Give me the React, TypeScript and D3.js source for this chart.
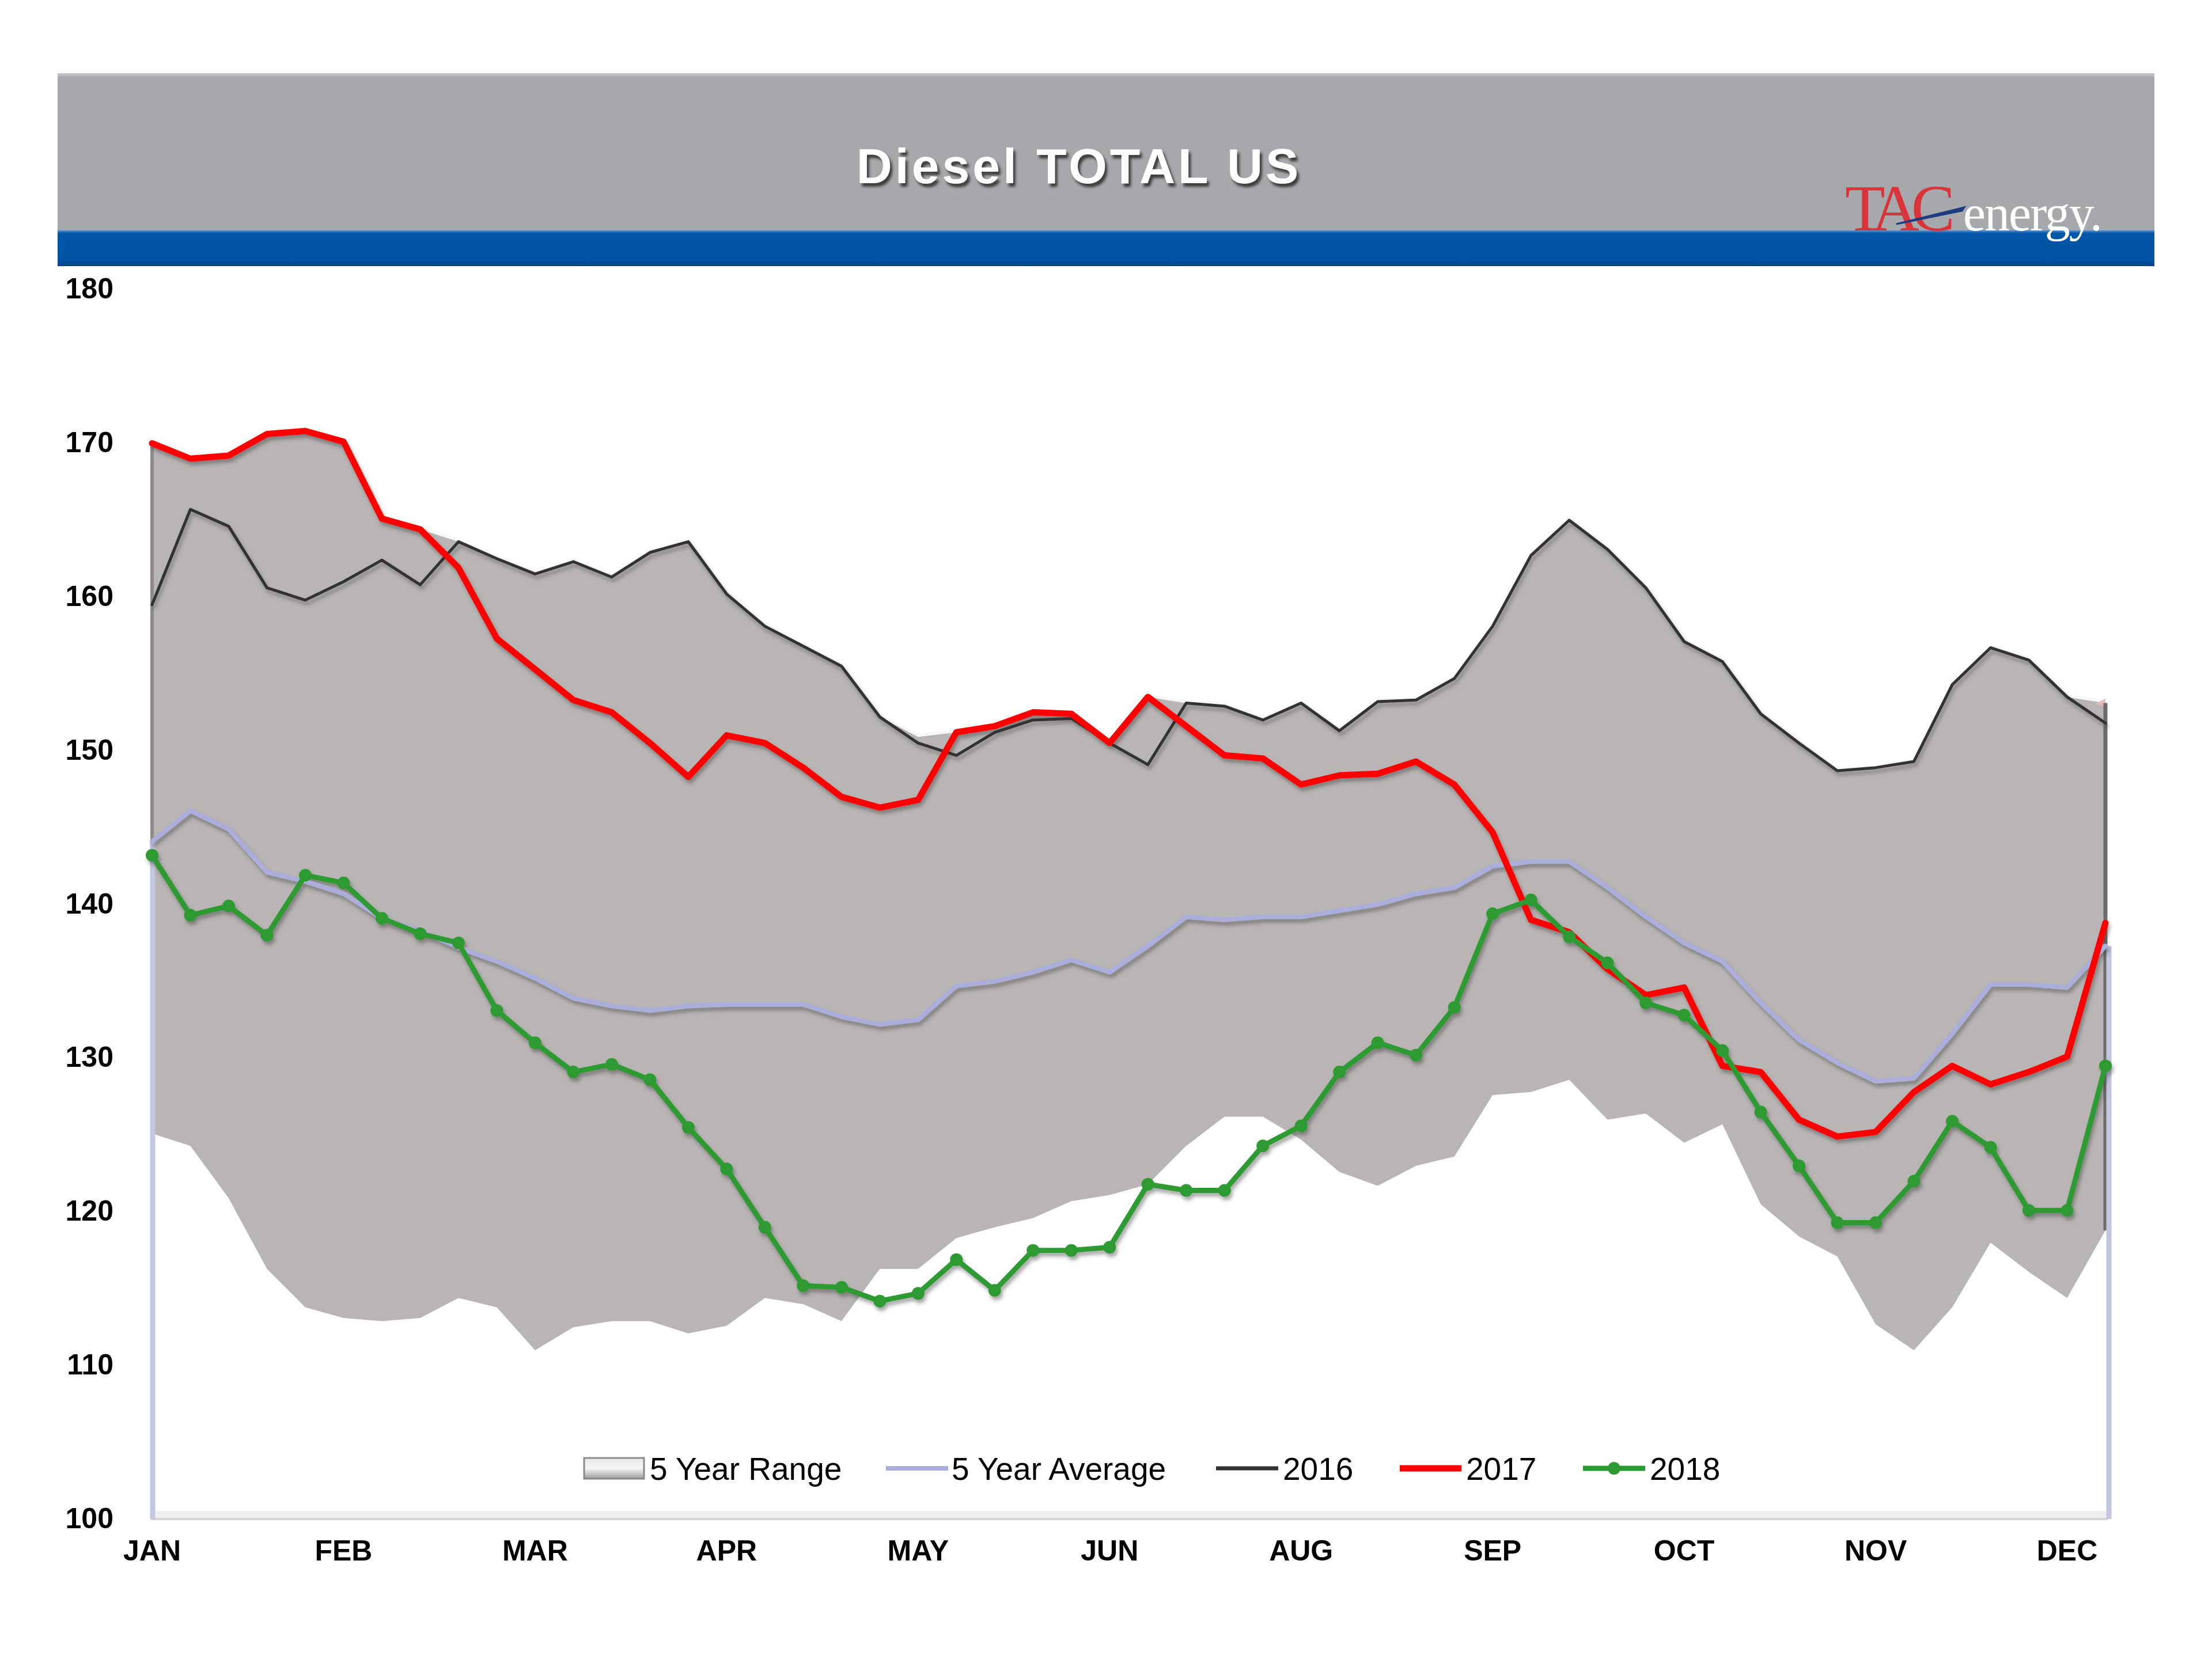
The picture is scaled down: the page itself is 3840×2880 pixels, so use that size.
import React from "react";
import * as d3 from "d3";

// ---------- DATA ----------
const weeks = d3.range(52);
const monthLabels = ["JAN", "FEB", "MAR", "APR", "MAY", "JUN", "AUG", "SEP", "OCT", "NOV", "DEC"];
const monthTickWeeks = [0, 5, 10, 15, 20, 25, 30, 35, 40, 45, 50];
const yTicks = [100, 110, 120, 130, 140, 150, 160, 170, 180];

const rangeHigh = [
  169.9, 168.9, 169.1, 170.5, 170.7, 170.0, 165.0, 164.3, 163.5, 162.4,
  161.4, 162.2, 161.2, 162.8, 163.5, 160.1, 158.0, 156.7, 155.4, 152.1,
  150.8, 151.1, 151.5, 152.4, 152.3, 150.4, 153.4, 153.0, 152.8, 151.9,
  153.0, 151.2, 153.1, 153.2, 154.6, 158.0, 162.6, 164.9, 163.0, 160.5,
  157.0, 155.7, 152.3, 150.4, 148.6, 148.8, 149.2, 154.2, 156.6, 155.8,
  153.4, 153.0,
];
const rangeLow = [
  125.0, 124.2, 120.8, 116.2, 113.7, 113.0, 112.8, 113.0, 114.3, 113.7,
  110.9, 112.4, 112.8, 112.8, 112.0, 112.5, 114.3, 113.9, 112.8, 116.2,
  116.2, 118.2, 118.9, 119.5, 120.6, 121.0, 121.7, 124.2, 126.1, 126.1,
  124.6, 122.5, 121.6, 122.9, 123.5, 127.5, 127.7, 128.5, 125.9, 126.3,
  124.4, 125.6, 120.4, 118.3, 117.0, 112.6, 110.9, 113.7, 117.9, 116.0,
  114.3, 118.7,
];
const avg5 = [
  144.0, 146.0, 144.8, 142.0, 141.4, 140.6, 139.0, 138.2, 137.1, 136.2,
  135.1, 133.8, 133.3, 133.0, 133.3, 133.4, 133.4, 133.4, 132.6, 132.1,
  132.4, 134.6, 134.9, 135.5, 136.3, 135.5, 137.2, 139.1, 138.9, 139.1,
  139.1, 139.5, 139.9, 140.6, 141.0, 142.4, 142.7, 142.7, 141.0, 139.1,
  137.4, 136.2, 133.5, 131.1, 129.6, 128.4, 128.6, 131.5, 134.7, 134.7,
  134.5, 137.2,
];
const y2016 = [
  159.4, 165.6, 164.5, 160.5, 159.7, 160.9, 162.3, 160.7, 163.5, 162.4,
  161.4, 162.2, 161.2, 162.8, 163.5, 160.1, 158.0, 156.7, 155.4, 152.1,
  150.4, 149.6, 151.1, 151.9, 152.0, 150.4, 149.0, 153.0, 152.8, 151.9,
  153.0, 151.2, 153.1, 153.2, 154.6, 158.0, 162.6, 164.9, 163.0, 160.5,
  157.0, 155.7, 152.3, 150.4, 148.6, 148.8, 149.2, 154.2, 156.6, 155.8,
  153.4, 151.7,
];
const y2017 = [
  169.9, 168.9, 169.1, 170.5, 170.7, 170.0, 165.0, 164.3, 161.8, 157.2,
  155.2, 153.2, 152.4, 150.4, 148.2, 150.9, 150.4, 148.8, 146.9, 146.2,
  146.7, 151.1, 151.5, 152.4, 152.3, 150.4, 153.4, 151.5, 149.6, 149.4,
  147.7, 148.3, 148.4, 149.2, 147.7, 144.6, 138.9, 138.1, 135.7, 134.0,
  134.5, 129.4, 129.0, 125.9, 124.8, 125.1, 127.7, 129.4, 128.2, 129.0,
  130.0, 138.7,
];
const y2018 = [
  143.1, 139.2, 139.8, 137.9, 141.8, 141.3, 139.0, 138.0, 137.4, 133.0,
  130.9, 129.0, 129.5, 128.5, 125.4, 122.7, 118.9, 115.1, 115.0, 114.1,
  114.6, 116.8, 114.8, 117.4, 117.4, 117.6, 121.7, 121.3, 121.3, 124.2,
  125.5, 129.0, 130.9, 130.1, 133.2, 139.3, 140.2, 137.8, 136.1, 133.5,
  132.7, 130.4, 126.4, 122.9, 119.2, 119.2, 121.9, 125.8, 124.1, 120.0,
  120.0, 129.4,
];

// ---------- LAYOUT ----------
const W = 3840;
const H = 2880;
const PL = 264;
const PR = 3655;
const PT = 500;
const PB = 2635;

const C = {
  area: "#B9B5B5",
  avg: "#ABAEDA",
  l2016: "#333333",
  l2017: "#FF0000",
  l2018: "#2E9A33",
};

export default function App() {
  const x = d3.scalePoint<number>().domain(weeks).range([PL, PR]);
  const y = d3.scaleLinear().domain([100, 180]).range([PB, PT]);

  const area = d3
    .area<number>()
    .x((i) => x(i)!)
    .y0((i) => y(rangeLow[i]))
    .y1((i) => y(rangeHigh[i]));
  const upper = d3
    .line<number>()
    .x((i) => x(i)!)
    .y((i) => y(rangeHigh[i]));
  const mk = (arr: number[]) =>
    d3
      .line<number>()
      .x((i) => x(i)!)
      .y((i) => y(arr[i]))(weeks) || "";

  const font = "'Liberation Sans', Arial, sans-serif";
  const x0 = x(0)!;
  const xN = x(51)!;

  const legendY = 2549;

  return (
    <div style={{ position: "absolute", left: 0, top: 0 }}>
      <svg width={W} height={H} viewBox={`0 0 ${W} ${H}`} style={{ display: "block", background: "#fff" }}>
        <defs>
          <linearGradient id="blueG" x1="0" y1="0" x2="0" y2="1">
            <stop offset="0" stopColor="#5B8FCB" />
            <stop offset="0.08" stopColor="#0457A8" />
            <stop offset="0.85" stopColor="#0053A3" />
            <stop offset="1" stopColor="#0A3F82" />
          </linearGradient>
          <linearGradient id="grayG" x1="0" y1="0" x2="0" y2="1">
            <stop offset="0" stopColor="#C9CACD" />
            <stop offset="0.03" stopColor="#A7A8AC" />
            <stop offset="1" stopColor="#A7A8AC" />
          </linearGradient>
          <linearGradient id="legBox" x1="0" y1="0" x2="0" y2="1">
            <stop offset="0" stopColor="#E8E8E8" />
            <stop offset="0.5" stopColor="#F6F6F6" />
            <stop offset="1" stopColor="#9C9C9C" />
          </linearGradient>
          <filter id="shadow" x="-5%" y="-5%" width="110%" height="120%">
            <feDropShadow dx="3" dy="6" stdDeviation="3" floodColor="#3A3A3A" floodOpacity="0.45" />
          </filter>
          <filter id="tshadow" x="-5%" y="-20%" width="110%" height="150%">
            <feGaussianBlur stdDeviation="2" />
          </filter>
        </defs>

        {/* Header */}
        <rect x={100} y={127} width={3640} height={274} fill="url(#grayG)" />
        <rect x={100} y={400} width={3640} height={62} fill="url(#blueG)" />

        {/* Title */}
        <text
          x={1877}
          y={324}
          textAnchor="middle"
          fontFamily={font}
          fontWeight="bold"
          fontSize={86}
          letterSpacing={5}
          fill="#3C3C3C"
          filter="url(#tshadow)"
        >
          Diesel TOTAL US
        </text>
        <text
          x={1873}
          y={318}
          textAnchor="middle"
          fontFamily={font}
          fontWeight="bold"
          fontSize={86}
          letterSpacing={5}
          fill="#FFFFFF"
        >
          Diesel TOTAL US
        </text>

        {/* Logo */}
        <text x={3203} y={400} fontFamily="'Liberation Serif', 'Times New Roman', serif" fontSize={114} letterSpacing={-14} fill="#D8343A">
          TAC
        </text>
        <text x={3408} y={400} fontFamily="'Liberation Serif', 'Times New Roman', serif" fontSize={88} letterSpacing={-2} fill="#FFFFFF">
          energy.
        </text>
        <path d="M3292,389 L3410,360 L3406,366 Z" fill="#1D3C80" stroke="#1D3C80" strokeWidth={3} />

        {/* Y axis labels */}
        {yTicks.map((t) => (
          <text
            key={t}
            x={197}
            y={y(t)}
            dy="0.36em"
            textAnchor="end"
            fontFamily={font}
            fontWeight="bold"
            fontSize={50}
            fill="#000"
          >
            {t}
          </text>
        ))}

        {/* 5-year range */}
        <path d={area(weeks) || ""} fill={C.area} />
        <path d={upper(weeks) || ""} fill="none" stroke="#F7F7F7" strokeWidth={4} transform="translate(0,-3)" />
        <path
          d={`M${xN - 18},${y(rangeHigh[51]) + 2} L${xN},${y(rangeHigh[51]) - 8} L${xN},${y(rangeHigh[51]) + 6} Z`}
          fill="#E7B9B9"
        />
        <line x1={x0} x2={x0} y1={y(rangeHigh[0])} y2={y(rangeLow[0])} stroke="#8F8B8B" strokeWidth={6} />
        <line x1={xN} x2={xN} y1={y(rangeHigh[51])} y2={y(rangeLow[51])} stroke="#6E6B6B" strokeWidth={7} />

        {/* plot bottom edge */}
        <line x1={PL - 2} x2={PR + 4} y1={PB + 2} y2={PB + 2} stroke="#D3D3D6" strokeWidth={4} />
        <line x1={PL - 2} x2={PR + 4} y1={PB - 6} y2={PB - 6} stroke="#EFEFF1" strokeWidth={12} />

        {/* avg drop lines at ends */}
        <line x1={x0 + 1} x2={x0 + 1} y1={y(avg5[0])} y2={PB + 2} stroke="#C4C5DE" strokeWidth={9} />
        <line x1={xN + 6} x2={xN + 6} y1={y(avg5[51])} y2={PB + 2} stroke="#C4C5DE" strokeWidth={9} />

        {/* Lines */}
        <g filter="url(#shadow)" fill="none" strokeLinejoin="round" strokeLinecap="round">
          <path d={mk(avg5)} stroke={C.avg} strokeWidth={8} />
          <path d={mk(y2016)} stroke={C.l2016} strokeWidth={5} />
          <path d={mk(y2017)} stroke={C.l2017} strokeWidth={11} />
          <path d={mk(y2018)} stroke={C.l2018} strokeWidth={9} />
          {weeks.map((i) => (
            <circle key={i} cx={x(i)} cy={y(y2018[i])} r={11} fill={C.l2018} stroke="none" />
          ))}
        </g>

        {/* X axis labels */}
        {monthTickWeeks.map((w, k) => (
          <text
            key={w}
            x={x(w)}
            y={2709}
            textAnchor="middle"
            fontFamily={font}
            fontWeight="bold"
            fontSize={50}
            fill="#000"
          >
            {monthLabels[k]}
          </text>
        ))}

        {/* Legend */}
        <g fontFamily={font} fontSize={55} fill="#000">
          <rect x={1014} y={legendY - 18} width={104} height={36} fill="url(#legBox)" stroke="#8A8A8A" strokeWidth={3} />
          <text x={1128} y={legendY} dy="0.36em">5 Year Range</text>

          <line x1={1538} x2={1646} y1={legendY} y2={legendY} stroke={C.avg} strokeWidth={8} />
          <text x={1652} y={legendY} dy="0.36em">5 Year Average</text>

          <line x1={2111} x2={2219} y1={legendY} y2={legendY} stroke={C.l2016} strokeWidth={7} />
          <text x={2227} y={legendY} dy="0.36em">2016</text>

          <line x1={2430} x2={2537} y1={legendY} y2={legendY} stroke={C.l2017} strokeWidth={11} />
          <text x={2545} y={legendY} dy="0.36em">2017</text>

          <line x1={2748} x2={2856} y1={legendY} y2={legendY} stroke={C.l2018} strokeWidth={9} />
          <circle cx={2802} cy={legendY} r={11} fill={C.l2018} />
          <text x={2864} y={legendY} dy="0.36em">2018</text>
        </g>
      </svg>
    </div>
  );
}
